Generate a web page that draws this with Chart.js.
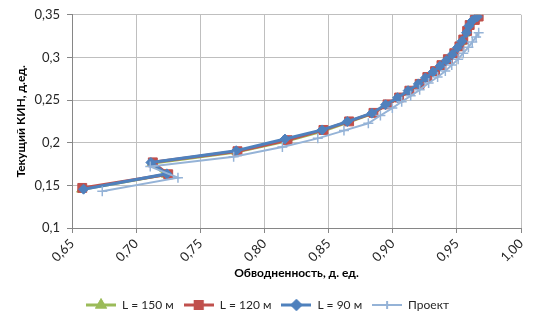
<!DOCTYPE html>
<html>
<head>
<meta charset="utf-8">
<script src="https://cdn.jsdelivr.net/npm/chart.js@4.4.1/dist/chart.umd.min.js"></script>
<style>
  html, body { margin: 0; padding: 0; background: #fff; }
  #wrap { width: 546px; height: 323px; }
</style>
</head>
<body>
<div id="wrap"><canvas id="kinChart" width="546" height="323"></canvas></div>
<script>
// Обводненность (x) и текущий КИН (y) по вариантам
const waterCut150 = [0.657, 0.723, 0.712, 0.778, 0.817, 0.846, 0.865, 0.884, 0.895, 0.904, 0.912, 0.920, 0.926, 0.932, 0.937, 0.942, 0.947, 0.951, 0.954, 0.957, 0.959, 0.963, 0.966];
const kin150      = [0.145, 0.1625, 0.176, 0.189, 0.202, 0.214, 0.224, 0.234, 0.244, 0.252, 0.260, 0.268, 0.275, 0.282, 0.289, 0.296, 0.303, 0.311, 0.318, 0.328, 0.336, 0.342, 0.346];

const waterCut120 = [0.658, 0.725, 0.713, 0.779, 0.818, 0.846, 0.866, 0.885, 0.896, 0.905, 0.913, 0.921, 0.927, 0.933, 0.938, 0.943, 0.948, 0.952, 0.955, 0.958, 0.960, 0.964, 0.967];
const kin120      = [0.147, 0.163, 0.177, 0.190, 0.203, 0.215, 0.225, 0.235, 0.245, 0.253, 0.261, 0.269, 0.277, 0.284, 0.291, 0.298, 0.305, 0.313, 0.321, 0.331, 0.338, 0.344, 0.348];

const waterCut90 = [0.659, 0.724, 0.7115, 0.778, 0.816, 0.845, 0.8646, 0.8838, 0.8944, 0.9038, 0.912, 0.920, 0.9255, 0.9315, 0.937, 0.9418, 0.9464, 0.9504, 0.954, 0.9575, 0.9594, 0.962, 0.966];
const kin90      = [0.1455, 0.1635, 0.1768, 0.1906, 0.2043, 0.215, 0.2248, 0.2346, 0.2445, 0.2528, 0.261, 0.269, 0.276, 0.283, 0.290, 0.2965, 0.3035, 0.3114, 0.319, 0.329, 0.337, 0.343, 0.3476];

const waterCutProject = [0.6736, 0.7326, 0.711, 0.776, 0.814, 0.8416, 0.862, 0.881, 0.8904, 0.8997, 0.907, 0.914, 0.921, 0.928, 0.935, 0.941, 0.946, 0.951, 0.955, 0.959, 0.962, 0.965, 0.967];
const kinProject      = [0.143, 0.159, 0.172, 0.1835, 0.195, 0.2051, 0.2142, 0.2228, 0.2319, 0.2406, 0.248, 0.255, 0.262, 0.270, 0.277, 0.284, 0.291, 0.298, 0.305, 0.312, 0.318, 0.324, 0.329];

const seriesNames = ['L = 150 м', 'L = 120 м', 'L = 90 м', 'Проект'];
const xTicks = [0.65, 0.70, 0.75, 0.80, 0.85, 0.90, 0.95, 1.00];
const yTicks = [0.1, 0.15, 0.2, 0.25, 0.3, 0.35];

const FONT = 'Lato, "Open Sans", "DejaVu Sans", sans-serif';

function toPoints(xs, ys) {
    return xs.map((x, i) => ({ x: x, y: ys[i] }));
}

// маленькая картинка для легенды: линия с маркером посередине
function legendIcon(color, style, radius, lw) {
    const c = document.createElement('canvas');
    c.width = 30; c.height = 14;
    const ctx = c.getContext('2d');
    ctx.strokeStyle = color;
    ctx.lineWidth = lw;
    ctx.beginPath();
    ctx.moveTo(0, 7); ctx.lineTo(30, 7);
    ctx.stroke();
    Chart.helpers.drawPoint(ctx, {
        pointStyle: style, radius: radius, rotation: 0, borderWidth: style === 'cross' ? 1.5 : 1
    }, 15, 7);
    ctx.fillStyle = color;
    ctx.fill();
    ctx.stroke();
    return c;
}

const colors = ['#9BBB59', '#C0504D', '#4F81BD', '#95B3D7'];
const styles = ['triangle', 'rect', 'rectRot', 'cross'];
const radii = [5, 6.3, 5, 5];

function series(i, xs, ys, lw) {
    return {
        label: seriesNames[i],
        data: toPoints(xs, ys),
        showLine: true,
        borderColor: colors[i],
        backgroundColor: colors[i],
        borderWidth: lw,
        pointStyle: styles[i],
        pointRadius: radii[i],
        pointBorderWidth: i === 3 ? 1.5 : 1,
        pointBorderColor: colors[i],
        pointBackgroundColor: colors[i],
        tension: 0
    };
}

// первый датасет рисуется сверху, поэтому порядок обратный, а легенда развернута
const datasets = [
    series(3, waterCutProject, kinProject, 2),
    series(2, waterCut90, kin90, 3),
    series(1, waterCut120, kin120, 3),
    series(0, waterCut150, kin150, 3)
];

new Chart(document.getElementById('kinChart'), {
    type: 'scatter',
    data: { datasets: datasets },
    options: {
        responsive: false,
        animation: false,
        layout: { padding: { left: 14, right: 25, top: 12, bottom: 2 } },
        plugins: {
            tooltip: { enabled: false },
            legend: {
                position: 'bottom',
                reverse: true,
                labels: {
                    usePointStyle: true,
                    pointStyleWidth: 30,
                    padding: 10,
                    color: '#262626',
                    font: { family: FONT, size: 12 },
                    generateLabels: function(chart) {
                        const items = Chart.defaults.plugins.legend.labels.generateLabels(chart);
                        items.forEach(item => {
                            const ds = chart.data.datasets[item.datasetIndex];
                            const idx = seriesNames.indexOf(ds.label);
                            item.pointStyle = legendIcon(colors[idx], styles[idx], idx === 1 ? 5 : 4, idx === 3 ? 2 : 3);
                        });
                        return items;
                    }
                }
            }
        },
        scales: {
            x: {
                type: 'linear',
                min: 0.65,
                max: 1.0,
                afterBuildTicks: s => { s.ticks = xTicks.map(v => ({ value: v })); },
                afterFit: s => { s.height = 61; },
                ticks: {
                    minRotation: 45,
                    maxRotation: 45,
                    color: '#262626',
                    font: { family: FONT, size: 13 },
                    callback: v => v.toFixed(2).replace('.', ',')
                },
                grid: { color: '#BFBFBF', lineWidth: 1, tickLength: 5, tickColor: '#868686' },
                border: { color: '#868686' },
                title: {
                    display: true,
                    text: 'Обводненность, д. ед.',
                    color: '#000',
                    font: { family: FONT, size: 12, weight: 'bold' },
                    padding: { top: 2, bottom: 9 }
                }
            },
            y: {
                type: 'linear',
                min: 0.1,
                max: 0.35,
                afterBuildTicks: s => { s.ticks = yTicks.map(v => ({ value: v })); },
                afterFit: s => { s.width = 58; },
                ticks: {
                    padding: 7,
                    color: '#262626',
                    font: { family: FONT, size: 13 },
                    callback: v => String(Number(v.toFixed(2))).replace('.', ',')
                },
                grid: { color: '#BFBFBF', lineWidth: 1, tickLength: 5, tickColor: '#868686' },
                border: { color: '#868686' },
                title: {
                    display: true,
                    text: 'Текущий КИН, д.ед.',
                    color: '#000',
                    font: { family: FONT, size: 12, weight: 'bold' },
                    padding: { top: 0, bottom: 0 }
                }
            }
        }
    }
});
</script>
</body>
</html>
